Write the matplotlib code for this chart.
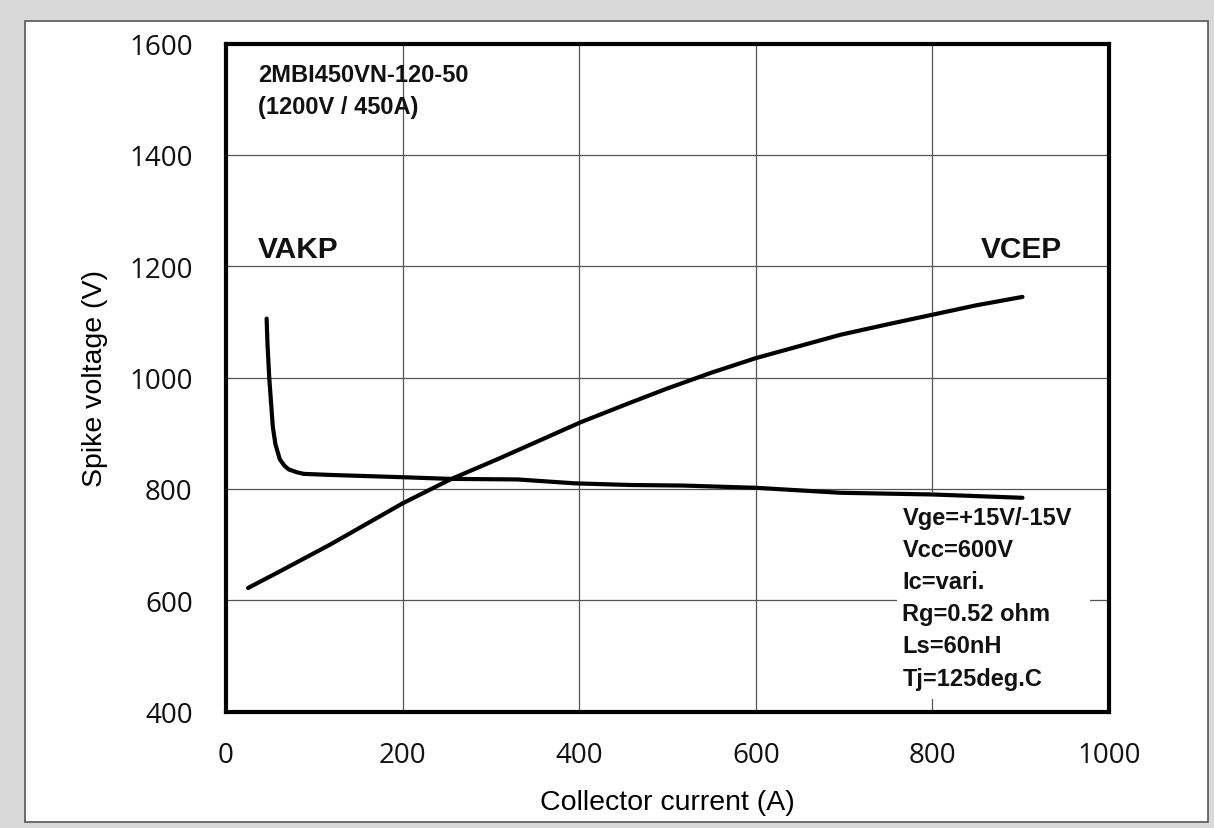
import numpy as np
import matplotlib.pyplot as plt
from matplotlib.patches import Rectangle

# data
vcep_ic = [25, 60, 118, 200, 254, 307, 402, 458, 499, 550, 600, 696, 750, 800, 850, 902]
vcep_v = [622, 651, 700, 774, 817, 853, 920, 955, 980, 1009, 1035, 1077, 1096, 1113, 1130, 1145]

vakp_ic = [46, 47, 49, 53, 56, 61, 66, 71, 80, 88, 120, 200, 254, 330, 395, 458, 518, 600, 696, 800, 902]
vakp_v = [1106, 1060, 999, 912, 880, 853, 842, 835, 830, 827, 825, 821, 818, 817, 810, 807, 806, 802, 793, 790, 784]

xticks = [0, 200, 400, 600, 800, 1000]
yticks = [400, 600, 800, 1000, 1200, 1400, 1600]

conditions = ["Vge=+15V/-15V", "Vcc=600V", "Ic=vari.", "Rg=0.52 ohm", "Ls=60nH", "Tj=125deg.C"]

W, H = 1214, 829
fig = plt.figure(figsize=(W / 100, H / 100), dpi=100, facecolor='#d9d9d9')

# white panel with thin border
panel = Rectangle((25 / W, 1 - 823 / H), (1208 - 25) / W, (823 - 22) / H,
                  transform=fig.transFigure, facecolor='white', edgecolor='#555555', lw=1.2, zorder=-5)
fig.patches.append(panel)

ax = fig.add_axes([226 / W, 1 - 712.5 / H, (1109 - 226) / W, (712.5 - 44.7) / H], zorder=2)
ax.set_facecolor('white')

ax.plot(vcep_ic, vcep_v, color='black', lw=3, zorder=3, solid_capstyle='round')
ax.plot(vakp_ic, vakp_v, color='black', lw=3, zorder=3, solid_capstyle='round')

ax.set_xlim(0, 1000)
ax.set_ylim(400, 1600)
ax.set_xticks(xticks)
ax.set_yticks(yticks)
ax.grid(True, color='#555555', lw=0.9)
ax.tick_params(length=0, labelsize=20)
ax.tick_params(axis='x', pad=21)
ax.tick_params(axis='y', pad=24)
for lab in ax.get_xticklabels() + ax.get_yticklabels():
    lab.set_fontfamily('Open Sans')
    lab.set_color('#111111')
for s in ax.spines.values():
    s.set_linewidth(3)

ax.set_xlabel('Collector current (A)', fontsize=20.5, family='Liberation Sans', labelpad=15)
ax.set_ylabel('Spike voltage (V)', fontsize=20.5, family='Liberation Sans', labelpad=15)

bold = dict(family='Liberation Sans', fontweight='bold', color='#111111')
ax.text(36, 1545, '2MBI450VN-120-50', fontsize=17, va='center', **bold)
ax.text(36, 1487, '(1200V / 450A)', fontsize=17, va='center', **bold)
ax.text(36, 1231, 'VAKP', fontsize=21.5, va='center', **bold)
ax.text(947, 1231, 'VCEP', fontsize=21.5, va='center', ha='right', **bold)

# white box behind the test conditions
ax.add_patch(Rectangle((760, 423), 218, 372, facecolor='white', edgecolor='none', zorder=2))
for i, c in enumerate(conditions):
    ax.text(766, 749 - i * 57.8, c, fontsize=17, va='center', zorder=4, **bold)

fig.savefig('out.png', dpi=100, facecolor=fig.get_facecolor())
